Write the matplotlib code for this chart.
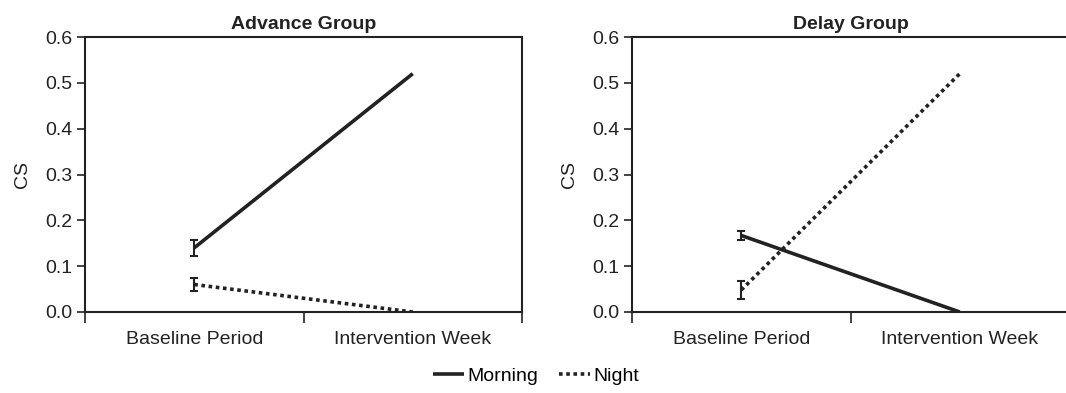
import numpy as np
import matplotlib
matplotlib.use("Agg")
import matplotlib.pyplot as plt

plt.rcParams['font.family'] = ['Liberation Sans', 'DejaVu Sans']

# datos
periodos = ["Baseline Period", "Intervention Week"]
titulos = ["Advance Group", "Delay Group"]
morning = [[0.14, 0.52], [0.167, 0.0]]
night = [[0.06, 0.0], [0.048, 0.52]]
morning_err = [[0.018, 0.0], [0.009, 0.0]]
night_err = [[0.014, 0.0], [0.02, 0.0]]
yticks = [0.0, 0.1, 0.2, 0.3, 0.4, 0.5, 0.6]

W, H = 1066, 393
fig = plt.figure(figsize=(W / 100, H / 100), dpi=100)
color = '#222222'
fs = 14
x = np.array([0.5, 1.5])

posiciones = [(85, 522), (632, 1069)]
handles = None
for i, (x0, x1) in enumerate(posiciones):
    ax = fig.add_axes([x0 / W, 1 - 312 / H, (x1 - x0) / W, (312 - 37) / H])
    # solo barras de error en el periodo base
    lm, = ax.plot(x, morning[i], color=color, lw=2.6, solid_capstyle='butt')
    ln, = ax.plot(x, night[i], color=color, lw=2.6, linestyle=(0, (1, 1)))
    ax.errorbar(x[:1], morning[i][:1], yerr=morning_err[i][:1], fmt='none',
                ecolor=color, elinewidth=1.5, capsize=3, capthick=1.5)
    ax.errorbar(x[:1], night[i][:1], yerr=night_err[i][:1], fmt='none',
                ecolor=color, elinewidth=1.5, capsize=3, capthick=1.5)
    handles = (lm, ln)

    ax.set_xlim(0, 2)
    ax.set_ylim(0, 0.6)
    ax.set_yticks(yticks)
    ax.set_yticklabels([f"{v:.1f}" for v in yticks], fontsize=fs, color=color)
    ax.set_xticks([0, 1, 2])
    ax.set_xticklabels([])
    ax.set_xticks(x, minor=True)
    ax.set_xticklabels(periodos, minor=True, fontsize=fs, color=color)
    ax.tick_params(axis='x', which='major', direction='out', length=8, width=1.2, color=color)
    ax.tick_params(axis='x', which='minor', length=0, pad=14)
    ax.tick_params(axis='y', direction='out', length=6, width=1.2, color=color, pad=3)
    for s in ax.spines.values():
        s.set_linewidth(1.5)
        s.set_color(color)
    ax.set_ylabel("CS", fontsize=fs, color=color, labelpad=10)
    ax.set_title(titulos[i], fontsize=14, fontweight='bold', color=color, pad=6)

fig.legend(handles, ["Morning", "Night"], loc='center', bbox_to_anchor=(536 / W, 1 - 376 / H),
           ncol=2, frameon=False, fontsize=fs, handlelength=1.6, columnspacing=1.1,
           handletextpad=0.15)

fig.savefig("out.png", dpi=100)
